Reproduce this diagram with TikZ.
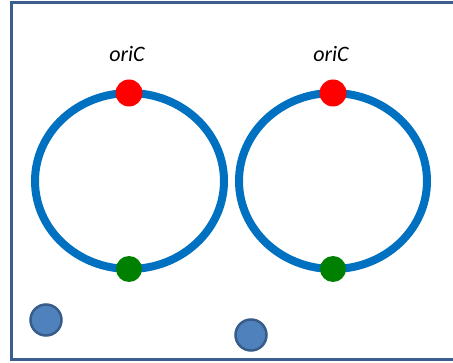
\documentclass[tikz,border=0pt]{standalone}
\usepackage{fontspec}
\setmainfont{Carlito}
\definecolor{ringblue}{HTML}{0070C0}
\definecolor{frameblue}{HTML}{3A5F8F}
\definecolor{ballfill}{HTML}{4F81BD}
\definecolor{ballline}{HTML}{385D8A}
\definecolor{darkgreen}{HTML}{008000}
\begin{document}
\begin{tikzpicture}[x=1pt,y=-1pt,
  ring/.style={draw=ringblue,line width=8pt},
  oridot/.style={circle,fill=red,inner sep=0pt,minimum size=27pt},
  terdot/.style={circle,fill=darkgreen,inner sep=0pt,minimum size=26pt},
  ball/.style={circle,fill=ballfill,draw=ballline,line width=2.5pt,inner sep=0pt,minimum size=31pt},
  lbl/.style={font=\fontsize{22}{26}\selectfont\itshape,inner sep=0pt}]
\useasboundingbox (0,0) rectangle (453,363);
\draw[frameblue,line width=3pt] (458,3) -- (11,3) -- (11,360) -- (458,360);
\draw[ring] (129.5,181) ellipse [x radius=94.5,y radius=88];
\draw[ring] (333,181) ellipse [x radius=94,y radius=88];
\node[oridot] (o1) at (129,93) {};
\node[oridot] (o2) at (333,93) {};
\node[terdot] (t1) at (129,269) {};
\node[terdot] (t2) at (333,269) {};
\node[lbl] (l1) at (127,54) {oriC};
\node[lbl] (l2) at (331,54) {oriC};
\node[ball] (b1) at (46,320) {};
\node[ball] (b2) at (251,335) {};
\end{tikzpicture}
\end{document}
